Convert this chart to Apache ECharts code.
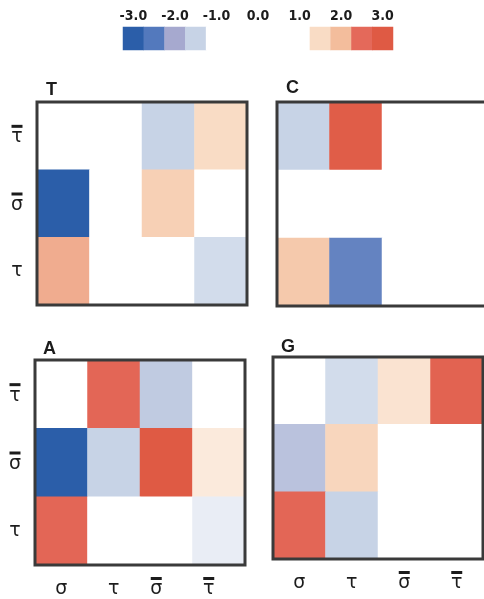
<!DOCTYPE html>
<html>
<head>
<meta charset="utf-8">
<script src="https://cdn.jsdelivr.net/npm/echarts@6/dist/echarts.min.js"></script>
<style>
  html, body { margin: 0; padding: 0; background: #ffffff; }
  #chart { width: 484px; height: 599px; }
</style>
</head>
<body>
<div id="chart"></div>
<script>
// Category names; the overlined ones carry a combining overline
const SIG = 'σ', TAU = 'τ', SIG_BAR = 'σ\u0305', TAU_BAR = 'τ\u0305';
const columns = [SIG, TAU, SIG_BAR, TAU_BAR];
const rowsBottomUp = [TAU, SIG_BAR, TAU_BAR];

// Cell values, each panel listed top row (τ̄) first
const panelT = [
  [0, 0, -1.5, 1.5],
  [-3, 0, 1.7, 0],
  [2.1, 0, 0, -1.4]
];
const panelC = [
  [-1.5, 2.9, 0, 0],
  [0, 0, 0, 0],
  [1.8, -2.4, 0, 0]
];
const panelA = [
  [0, 2.6, -1.6, 0],
  [-3, -1.5, 3, 1.3],
  [2.6, 0, 0, -1.2]
];
const panelG = [
  [0, -1.4, 1.4, 2.7],
  [-1.7, 1.6, 0, 0],
  [2.6, -1.5, 0, 0]
];

// Colour key steps and their colours
const scaleValues = [-3, -2.5, -2, -1.5, -1, -0.5, 0, 0.5, 1, 1.5, 2, 2.5, 3];
const scaleColors = ['#2b5ea9', '#5379bd', '#a6a9cf', '#c7d3e6', '#ffffff', '#ffffff', '#ffffff',
                     '#ffffff', '#ffffff', '#f9dcc5', '#f3bd9c', '#e4695a', '#df5a44'];

const ink = '#1c1c1c';
const glyphFont = 'DejaVu Sans';

function toCells(matrix) {
  const cells = [];
  matrix.forEach((row, r) => {
    row.forEach((v, c) => cells.push([c, matrix.length - 1 - r, v]));
  });
  return cells;
}

// Symbol label with an optional bar drawn above it; barred labels can be nudged left
function symbolLabel(name, keepSpace, nudgeBarred) {
  const barred = name.indexOf('\u0305') >= 0;
  const glyph = name.replace('\u0305', '');
  const tail = barred && nudgeBarred ? '{sp|}' : '';
  if (barred) return '{bar|}' + tail + '\n{g|' + glyph + '}' + tail;
  return keepSpace ? '{gap|}\n{g|' + glyph + '}' : '{g|' + glyph + '}';
}
const symbolRich = {
  bar: { width: 11, height: 3, backgroundColor: ink },
  gap: { width: 11, height: 3, backgroundColor: 'transparent' },
  sp: { width: 20, height: 3 },
  g: { fontFamily: glyphFont, fontSize: 19, color: ink, lineHeight: 19 }
};

const panels = [
  { name: 'T', data: panelT, box: { left: 37, top: 102, width: 210, height: 203 }, yLab: true,  xLab: false, nudge: false, title: [46, 81] },
  { name: 'C', data: panelC, box: { left: 277, top: 102, width: 210, height: 204 }, yLab: false, xLab: false, nudge: false, title: [286, 79] },
  { name: 'A', data: panelA, box: { left: 35, top: 360, width: 210, height: 205 }, yLab: true,  xLab: true,  nudge: true,  title: [43, 340] },
  { name: 'G', data: panelG, box: { left: 273, top: 357, width: 210, height: 202 }, yLab: false, xLab: true,  nudge: false, title: [281, 338] }
];

const grid = [{ left: 123, top: 27, width: 270, height: 23, outerBoundsMode: 'none' }];
const xAxis = [{
  type: 'category', gridIndex: 0, position: 'top',
  data: scaleValues.map(v => v.toFixed(1)),
  axisLine: { show: false }, axisTick: { show: false }, splitLine: { show: false },
  axisLabel: {
    interval: 1, margin: 4, color: ink, fontWeight: 'bold', fontSize: 14,
    fontFamily: 'DejaVu Sans Condensed, Liberation Sans, Arial'
  }
}];
const yAxis = [{ type: 'category', gridIndex: 0, data: ['key'], show: false }];
const series = [{
  type: 'heatmap', xAxisIndex: 0, yAxisIndex: 0,
  data: scaleValues.map((v, i) => [i, 0, v]),
  itemStyle: { borderWidth: 0 }
}];
const title = [];

panels.forEach((p, k) => {
  const gi = k + 1;
  grid.push(Object.assign({
    show: true, z: 5, borderColor: '#3a3a3a', borderWidth: 3,
    backgroundColor: 'transparent', outerBoundsMode: 'none'
  }, p.box));
  xAxis.push({
    type: 'category', gridIndex: gi, data: columns, position: 'bottom',
    axisLine: { show: false }, axisTick: { show: false }, splitLine: { show: false },
    axisLabel: {
      show: p.xLab, interval: 0, hideOverlap: false, margin: 12, verticalAlign: 'top',
      formatter: v => symbolLabel(v, true, p.nudge), rich: symbolRich
    }
  });
  yAxis.push({
    type: 'category', gridIndex: gi, data: rowsBottomUp,
    axisLine: { show: false }, axisTick: { show: false }, splitLine: { show: false },
    axisLabel: {
      show: p.yLab, interval: 0, margin: 20, align: 'center',
      formatter: v => symbolLabel(v, false, false), rich: symbolRich
    }
  });
  series.push({
    type: 'heatmap', xAxisIndex: gi, yAxisIndex: gi,
    data: toCells(p.data),
    itemStyle: { borderWidth: 0 }
  });
  title.push({
    text: p.name, left: p.title[0], top: p.title[1], padding: 0,
    textStyle: { fontFamily: 'Liberation Sans, Arial', fontWeight: 'bold', fontSize: 18, color: ink }
  });
});

const chart = echarts.init(document.getElementById('chart'), null, { renderer: 'canvas' });
chart.setOption({
  animation: false,
  backgroundColor: '#ffffff',
  title: title,
  grid: grid,
  xAxis: xAxis,
  yAxis: yAxis,
  visualMap: {
    type: 'continuous', show: false, min: -3, max: 3,
    inRange: { color: scaleColors }
  },
  series: series
});
</script>
</body>
</html>
